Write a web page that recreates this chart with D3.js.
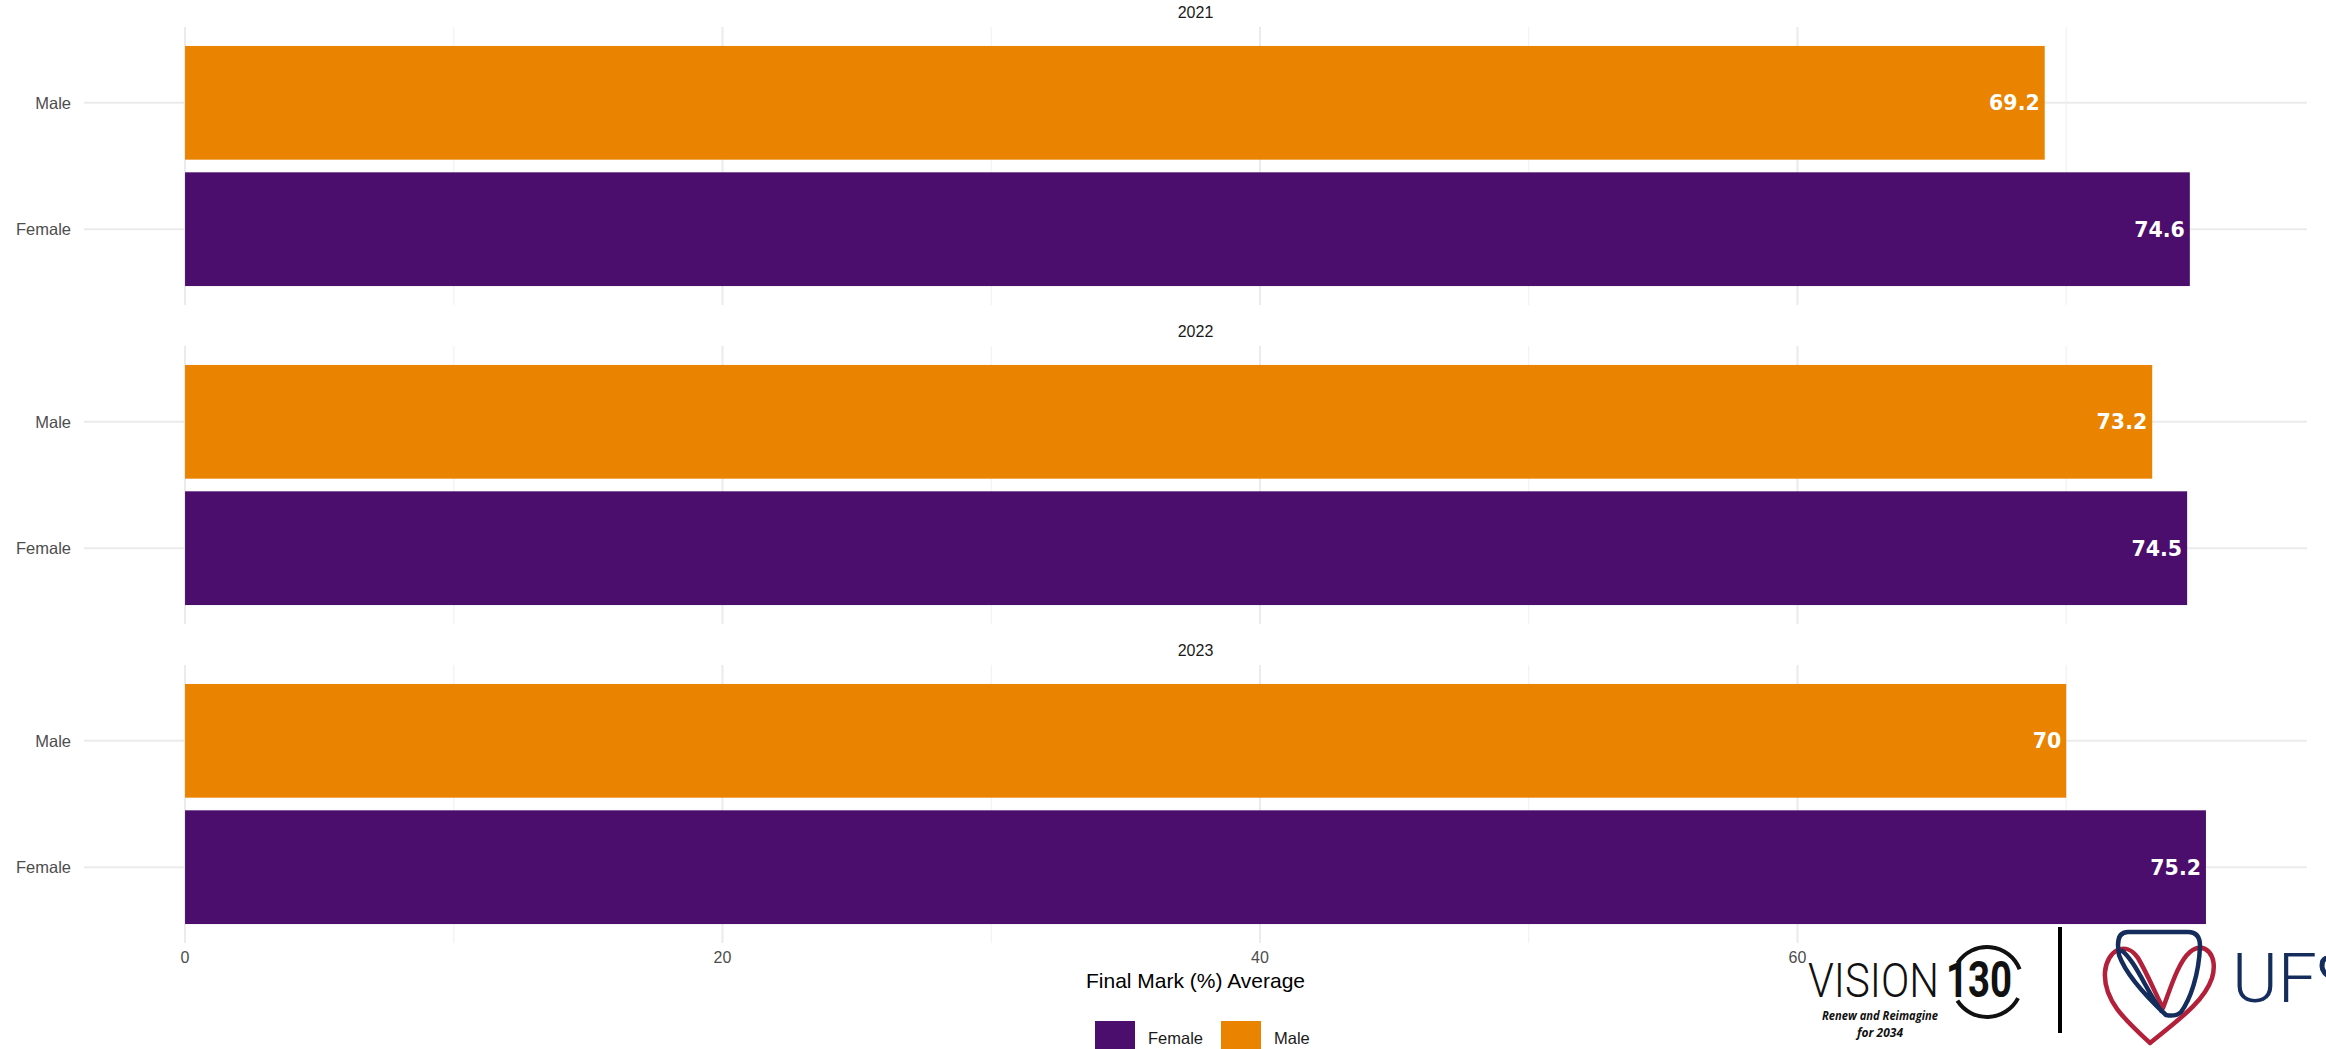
<!DOCTYPE html>
<html>
<head>
<meta charset="utf-8">
<script src="https://cdn.jsdelivr.net/npm/d3@7"></script>
<style>
  html, body { margin: 0; padding: 0; background: #fff; }
  svg { display: block; }
</style>
</head>
<body>
<svg id="chart" width="2326" height="1049"></svg>
<script>
// ---- Data ----
const years = ["2021", "2022", "2023"];
const genders = ["Male", "Female"];
const maleValues = [69.2, 73.2, 70];
const femaleValues = [74.6, 74.5, 75.2];
const xMajorTicks = [0, 20, 40, 60];
const xMinorTicks = [10, 30, 50, 70];
const legendLabels = ["Female", "Male"];

// ---- Layout ----
const W = 2326, H = 1049;
const panelLeft = 84, panelRight = 2307;
const firstPanelTop = 27, panelHeight = 278, panelStep = 319;
const colors = { Female: "#4B0E6C", Male: "#E98300" };
const grid = "#EBEBEB";
const font = "'Liberation Sans', Arial, Helvetica, sans-serif";

const svg = d3.select("#chart");
svg.append("rect").attr("width", W).attr("height", H).attr("fill", "#fff");

const maxVal = d3.max(femaleValues.concat(maleValues));
const x = d3.scaleLinear()
  .domain([-0.05 * maxVal, maxVal * 1.05])
  .range([panelLeft, panelRight]);

years.forEach((yr, i) => {
  const top = firstPanelTop + i * panelStep;
  const y = d3.scaleBand().domain(genders)
    .range([top, top + panelHeight])
    .paddingInner(0.1).paddingOuter(0.15);
  const g = svg.append("g");

  // strip label
  g.append("text")
    .attr("x", (panelLeft + panelRight) / 2).attr("y", top - 15)
    .attr("dy", "0.35em").attr("text-anchor", "middle")
    .attr("font-family", font).attr("font-size", 16).attr("fill", "#1A1A1A")
    .text(yr);

  // minor vertical grid
  g.selectAll(".minor").data(xMinorTicks).enter().append("line")
    .attr("x1", d => x(d)).attr("x2", d => x(d))
    .attr("y1", top).attr("y2", top + panelHeight)
    .attr("stroke", "#F2F2F2").attr("stroke-width", 1.2);
  // major vertical grid
  g.selectAll(".major").data(xMajorTicks).enter().append("line")
    .attr("x1", d => x(d)).attr("x2", d => x(d))
    .attr("y1", top).attr("y2", top + panelHeight)
    .attr("stroke", grid).attr("stroke-width", 2);
  // horizontal grid
  g.selectAll(".hgrid").data(genders).enter().append("line")
    .attr("x1", panelLeft).attr("x2", panelRight)
    .attr("y1", d => y(d) + y.bandwidth() / 2).attr("y2", d => y(d) + y.bandwidth() / 2)
    .attr("stroke", grid).attr("stroke-width", 2);

  // y labels
  g.selectAll(".ylab").data(genders).enter().append("text")
    .attr("x", 71).attr("y", d => y(d) + y.bandwidth() / 2)
    .attr("dy", "0.35em").attr("text-anchor", "end")
    .attr("font-family", font).attr("font-size", 16.5).attr("fill", "#4D4D4D")
    .text(d => d);

  const rows = [
    { g: "Male", v: maleValues[i] },
    { g: "Female", v: femaleValues[i] }
  ];
  g.selectAll(".bar").data(rows).enter().append("rect")
    .attr("x", x(0)).attr("y", d => y(d.g))
    .attr("width", d => x(d.v) - x(0)).attr("height", y.bandwidth())
    .attr("fill", d => colors[d.g]);
  g.selectAll(".val").data(rows).enter().append("text")
    .attr("x", d => x(d.v) - 5).attr("y", d => y(d.g) + y.bandwidth() / 2)
    .attr("dy", "0.36em").attr("text-anchor", "end")
    .attr("font-family", "'DejaVu Sans', Verdana, sans-serif").attr("font-weight", "bold")
    .attr("font-size", 20.5).attr("fill", "#fff")
    .text(d => d.v);
});

// x tick labels
svg.selectAll(".xt").data(xMajorTicks).enter().append("text")
  .attr("x", d => x(d)).attr("y", 957).attr("dy", "0.35em")
  .attr("text-anchor", "middle").attr("font-family", font)
  .attr("font-size", 16).attr("fill", "#4D4D4D").text(d => d);

// x axis title
svg.append("text")
  .attr("x", (panelLeft + panelRight) / 2).attr("y", 981).attr("dy", "0.35em")
  .attr("text-anchor", "middle").attr("font-family", font)
  .attr("font-size", 21).attr("fill", "#000").text("Final Mark (%) Average");

// legend
const legX = [1095, 1221];
legendLabels.forEach((lab, i) => {
  svg.append("rect").attr("x", legX[i]).attr("y", 1021).attr("width", 40).attr("height", 40)
    .attr("fill", colors[lab]);
  svg.append("text").attr("x", legX[i] + 53).attr("y", 1038).attr("dy", "0.35em")
    .attr("font-family", font).attr("font-size", 16.5).attr("fill", "#1A1A1A").text(lab);
});

// ---- Logos (decorative) ----
const logo = svg.append("g");
logo.append("rect").attr("x", 1806).attr("y", 966).attr("width", 517).attr("height", 83).attr("fill", "#fff");
logo.append("rect").attr("x", 1940).attr("y", 925).attr("width", 383).attr("height", 50).attr("fill", "#fff");
logo.append("text").attr("transform", "translate(1808,997) scale(1,1.15)")
  .attr("font-family", "Roboto, 'Liberation Sans Narrow', sans-serif").attr("font-weight", 300)
  .attr("font-size", 41).attr("textLength", 131).attr("lengthAdjust", "spacingAndGlyphs")
  .attr("fill", "#111").text("VISION");
logo.append("text").attr("transform", "translate(1946,997) scale(1,1.2)")
  .attr("font-family", "Roboto, 'Liberation Sans', sans-serif").attr("font-weight", 700)
  .attr("font-size", 42).attr("textLength", 66).attr("lengthAdjust", "spacingAndGlyphs")
  .attr("fill", "#111").text("130");
const arc = d3.arc();
const cx = 1987, cy = 982;
logo.append("path").attr("transform", `translate(${cx},${cy})`)
  .attr("d", arc({ innerRadius: 33, outerRadius: 37, startAngle: -1.0, endAngle: 1.2 }))
  .attr("fill", "#111");
logo.append("path").attr("transform", `translate(${cx},${cy})`)
  .attr("d", arc({ innerRadius: 33, outerRadius: 37, startAngle: 2.05, endAngle: 4.15 }))
  .attr("fill", "#111");
logo.append("text").attr("x", 1880).attr("y", 1020).attr("text-anchor", "middle")
  .attr("font-family", "'Open Sans', sans-serif").attr("font-weight", 700).attr("font-style", "italic")
  .attr("font-size", 13).attr("textLength", 116).attr("lengthAdjust", "spacingAndGlyphs")
  .attr("fill", "#111").text("Renew and Reimagine");
logo.append("text").attr("x", 1880).attr("y", 1037).attr("text-anchor", "middle")
  .attr("font-family", "'Open Sans', sans-serif").attr("font-weight", 700).attr("font-style", "italic")
  .attr("font-size", 13).attr("textLength", 46).attr("lengthAdjust", "spacingAndGlyphs")
  .attr("fill", "#111").text("for 2034");
logo.append("line").attr("x1", 2060).attr("x2", 2060).attr("y1", 927).attr("y2", 1033)
  .attr("stroke", "#000").attr("stroke-width", 4);
// red heart
logo.append("path")
  .attr("d", "M2150,1043 C2125,1020 2103,1000 2105,972 C2107,950 2126,940 2138,958 C2148,975 2156,995 2163,1008 C2170,990 2178,962 2190,952 C2204,940 2219,955 2212,978 C2204,1002 2178,1020 2150,1043 Z")
  .attr("fill", "none").attr("stroke", "#B3203A").attr("stroke-width", 4.5).attr("stroke-linejoin", "round");
// navy shape
logo.append("path")
  .attr("d", "M2128,932 L2188,932 Q2200,932 2200,946 C2199,975 2190,1000 2181,1012 Q2176,1017 2166,1015 C2150,1000 2126,975 2119,955 L2118,945 Q2118,932 2128,932 Z M2121,950 C2135,960 2146,990 2162,1012")
  .attr("fill", "none").attr("stroke", "#142D5C").attr("stroke-width", 4.5).attr("stroke-linejoin", "round");
logo.append("text").attr("x", 2232).attr("y", 1002)
  .attr("font-family", "Roboto, 'Liberation Sans', sans-serif").attr("font-weight", 300)
  .attr("font-size", 68).attr("textLength", 85).attr("lengthAdjust", "spacingAndGlyphs")
  .attr("fill", "#142D5C").text("UF");
// partial third letter of the logo, cut by the image edge
logo.append("path")
  .attr("d", "M2334,962 C2328,955 2322,958 2322,966 C2322,974 2330,976 2334,980")
  .attr("fill", "none").attr("stroke", "#142D5C").attr("stroke-width", 5);
</script>
</body>
</html>
